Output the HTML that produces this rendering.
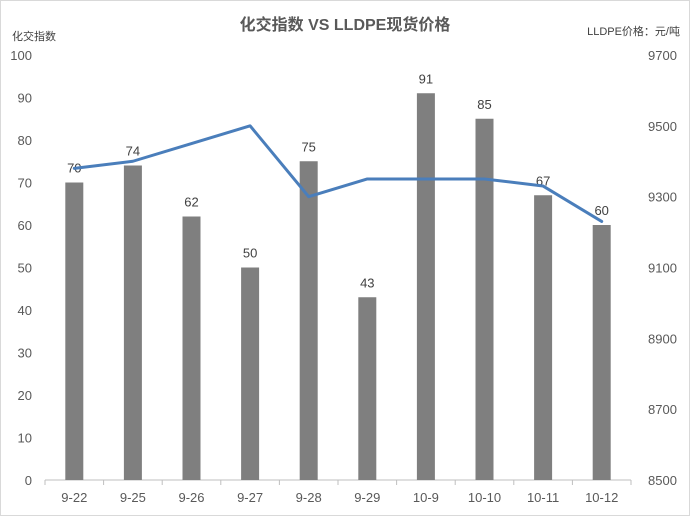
<!DOCTYPE html>
<html><head><meta charset="utf-8"><style>
html,body{margin:0;padding:0;background:#fff;}
svg{display:block;font-family:"Liberation Sans","Noto Sans CJK SC",sans-serif;}
</style></head><body>
<svg id="chart" width="690" height="516" viewBox="0 0 690 516">
<rect x="0.5" y="0.5" width="689" height="515" fill="#fff" stroke="#d9d9d9"/>
<text x="345" y="30" text-anchor="middle" font-size="16" font-weight="bold" fill="#595959">化交指数 VS LLDPE现货价格</text>
<text x="12" y="40" font-size="11" fill="#404040">化交指数</text>
<text x="680" y="35" text-anchor="end" font-size="11" fill="#404040">LLDPE价格：元/吨</text>
<g id="g"></g>
</svg>
<script>
const categories=["9-22","9-25","9-26","9-27","9-28","9-29","10-9","10-10","10-11","10-12"];
const indexValues=[70,74,62,50,75,43,91,85,67,60];
const priceValues=[9380,9400,9450,9500,9300,9350,9350,9350,9330,9230];
const leftTicks=[0,10,20,30,40,50,60,70,80,90,100];
const rightTicks=[8500,8700,8900,9100,9300,9500,9700];
const NS="http://www.w3.org/2000/svg";
const g=document.getElementById('g');
const x0=45,x1=631,yB=480,yT=55;
const step=(x1-x0)/categories.length;
const xs=i=>x0+step*(i+0.5);
const yL=v=>yB-(v-0)/100*(yB-yT);
const yR=v=>yB-(v-8500)/1200*(yB-yT);
function mk(t,a){const e=document.createElementNS(NS,t);for(const k in a)e.setAttribute(k,a[k]);g.appendChild(e);return e;}
leftTicks.forEach(v=>{const e=mk('text',{x:32,y:yL(v)+5,'text-anchor':'end','font-size':13,fill:'#595959'});e.textContent=v;

});
rightTicks.forEach(v=>{const e=mk('text',{x:648,y:yR(v)+5,'font-size':13,fill:'#595959'});e.textContent=v;

});
const ax=mk('line',{x1:x0,x2:x1,y1:yB,y2:yB,stroke:'#bfbfbf','stroke-width':1});


for(let i=0;i<=categories.length;i++){const t=mk('line',{x1:x0+step*i,x2:x0+step*i,y1:yB,y2:yB+5,stroke:'#bfbfbf'});

}
categories.forEach((c,i)=>{
const b=mk('rect',{x:xs(i)-9,y:yL(indexValues[i]),width:18,height:yB-yL(indexValues[i]),fill:'#7f7f7f'});


const l=mk('text',{x:xs(i),y:yL(indexValues[i])-10,'text-anchor':'middle','font-size':13,fill:'#404040'});l.textContent=indexValues[i];


const t=mk('text',{x:xs(i),y:yB+22,'text-anchor':'middle','font-size':13,fill:'#595959'});t.textContent=c;


});
const p=mk('polyline',{points:priceValues.map((v,i)=>xs(i)+','+yR(v)).join(' '),fill:'none',stroke:'#4a7ebb','stroke-width':3,'stroke-linejoin':'round','stroke-linecap':'round'});


</script>
</body></html>
